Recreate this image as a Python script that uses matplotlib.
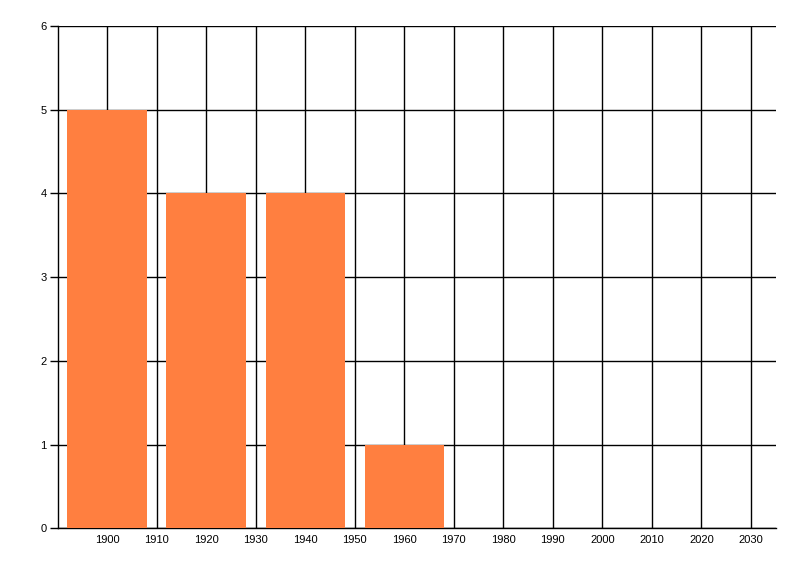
import matplotlib
matplotlib.use("Agg")
import matplotlib.pyplot as plt
import numpy as np

# dados do grafico
decadas = [1900, 1920, 1940, 1960]
valores = [5, 4, 4, 1]
ticksX = list(range(1900, 2031, 10))
ticksY = [0, 1, 2, 3, 4, 5, 6]

plt.rcParams['font.family'] = ['Liberation Sans', 'DejaVu Sans']

fig = plt.figure(figsize=(8, 5.76), dpi=100)
ax = fig.add_axes([0.0719, 0.0828, 0.8977, 0.8721])

ax.bar(decadas, valores, width=16, color='#FF7F40', zorder=3)

ax.set_xlim(1890, 2035)
ax.set_ylim(0, 6)
ax.set_xticks(ticksX)
ax.set_yticks(ticksY)
ax.tick_params(axis='x', length=0, pad=5, labelsize=8)
ax.tick_params(axis='y', length=6, width=1, pad=2, labelsize=8)

ax.grid(True, color='black', linewidth=1, zorder=1)
ax.set_axisbelow(True)
for lado in ['right', 'top']:
    ax.spines[lado].set_visible(False)
ax.spines['left'].set_linewidth(1)
ax.spines['bottom'].set_linewidth(1)

fig.savefig('out.png', dpi=100)
